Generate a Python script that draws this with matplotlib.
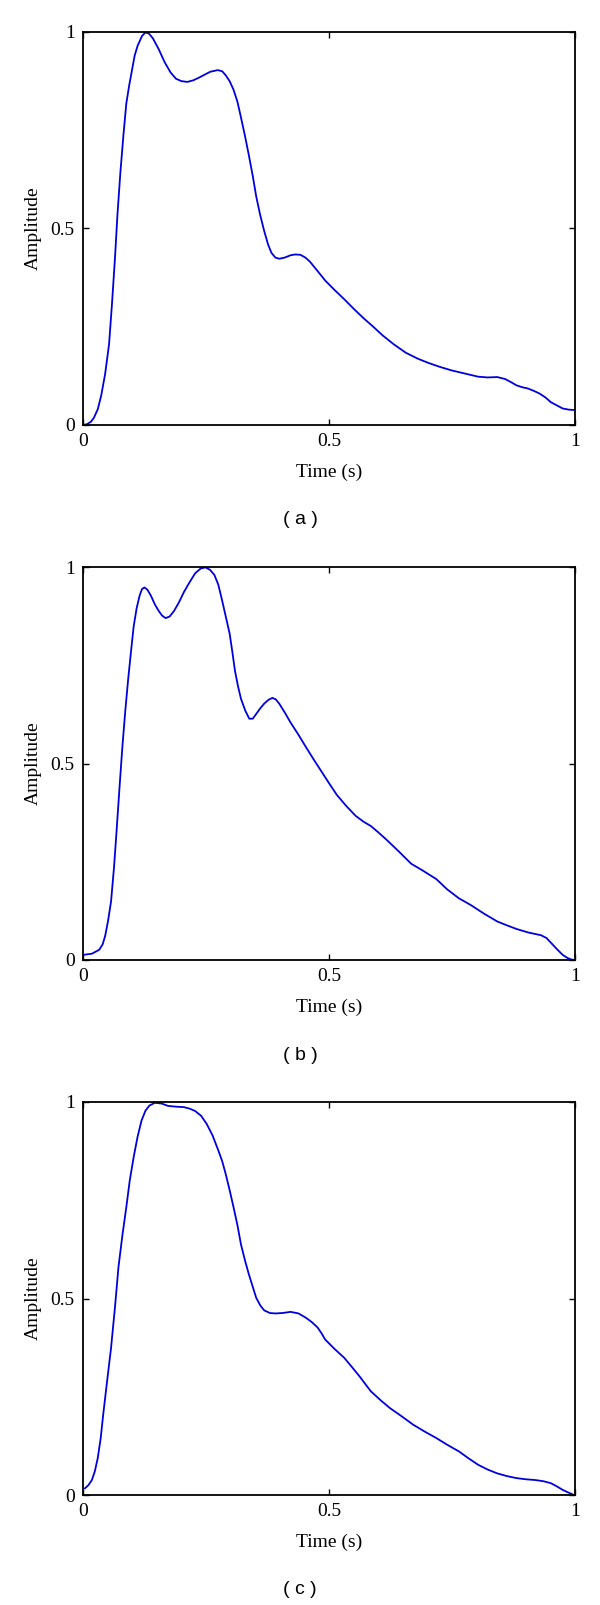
import matplotlib
matplotlib.use("Agg")
import matplotlib.pyplot as plt

# values, time in s, amplitude normalised
t_a = [0.0, 0.008, 0.016, 0.022, 0.03, 0.037, 0.045, 0.053, 0.059, 0.065, 0.07, 0.076,
       0.082, 0.088, 0.094, 0.1, 0.105, 0.111, 0.12, 0.127,
       0.134, 0.142, 0.154, 0.166, 0.178, 0.189, 0.2, 0.212, 0.224, 0.236, 0.248, 0.259,
       0.274, 0.283, 0.29, 0.298, 0.306, 0.314, 0.321, 0.329, 0.337, 0.345, 0.352, 0.36,
       0.368, 0.376, 0.383, 0.391, 0.399, 0.41, 0.422, 0.432, 0.442, 0.452, 0.461, 0.476,
       0.492, 0.511, 0.531, 0.55, 0.57, 0.59, 0.609, 0.632, 0.656, 0.68, 0.702, 0.725,
       0.749, 0.776, 0.803, 0.822, 0.842, 0.858, 0.87, 0.881, 0.893, 0.904, 0.916, 0.928,
       0.94, 0.951, 0.963, 0.975, 0.988, 1.0]
amp_a = [0.0, 0.002, 0.008, 0.018, 0.04, 0.075, 0.13, 0.206, 0.31, 0.425, 0.535, 0.643,
         0.735, 0.818, 0.865, 0.906, 0.94, 0.965, 0.99, 0.999,
         0.996, 0.984, 0.956, 0.923, 0.897, 0.881, 0.875, 0.873, 0.877, 0.884, 0.892, 0.899,
         0.903, 0.9, 0.89, 0.875, 0.853, 0.822, 0.783, 0.737, 0.687, 0.634, 0.582, 0.535,
         0.495, 0.46, 0.438, 0.426, 0.423, 0.426, 0.432, 0.434, 0.433, 0.426, 0.416, 0.393,
         0.368, 0.344, 0.32, 0.296, 0.272, 0.25, 0.228, 0.205, 0.184, 0.169, 0.158, 0.148,
         0.139, 0.131, 0.123, 0.121, 0.122, 0.117, 0.109, 0.101, 0.096, 0.093, 0.087, 0.08,
         0.07, 0.058, 0.05, 0.042, 0.039, 0.038]

t_b = [0.0, 0.018, 0.033, 0.04, 0.045, 0.051, 0.057, 0.063, 0.068, 0.074, 0.08, 0.086,
       0.092, 0.098, 0.103, 0.109, 0.115, 0.12, 0.125, 0.131, 0.138, 0.146, 0.154, 0.161,
       0.168, 0.176, 0.185, 0.195, 0.205, 0.217, 0.228, 0.239, 0.249, 0.258, 0.267, 0.275,
       0.282, 0.29, 0.298, 0.304, 0.309, 0.315, 0.321, 0.33, 0.338, 0.345, 0.352, 0.36,
       0.368, 0.377, 0.385, 0.392, 0.399, 0.41, 0.422, 0.438, 0.453, 0.468, 0.484, 0.5,
       0.516, 0.535, 0.554, 0.57, 0.585, 0.6, 0.617, 0.642, 0.667, 0.69, 0.718, 0.74,
       0.764, 0.788, 0.815, 0.842, 0.862, 0.881, 0.905, 0.931, 0.942, 0.951, 0.963, 0.975,
       0.985, 0.993, 1.0]
amp_b = [0.013, 0.016, 0.026, 0.04, 0.061, 0.1, 0.149, 0.235, 0.324, 0.435, 0.542, 0.635,
         0.717, 0.79, 0.849, 0.895, 0.927, 0.944, 0.948, 0.942, 0.927, 0.905, 0.888, 0.876,
         0.87, 0.874, 0.888, 0.91, 0.936, 0.962, 0.984, 0.996, 0.999, 0.993, 0.98, 0.955,
         0.919, 0.875, 0.831, 0.78, 0.735, 0.697, 0.665, 0.634, 0.614, 0.614, 0.626, 0.64,
         0.652, 0.662, 0.667, 0.663, 0.652, 0.63, 0.604, 0.573, 0.542, 0.512, 0.481, 0.45,
         0.42, 0.392, 0.367, 0.352, 0.341, 0.325, 0.306, 0.276, 0.245, 0.228, 0.206, 0.18,
         0.157, 0.14, 0.118, 0.098, 0.088, 0.079, 0.07, 0.063, 0.056, 0.044, 0.028, 0.013,
         0.005, 0.001, 0.0]

t_c = [0.004, 0.011, 0.018, 0.024, 0.03, 0.036, 0.041, 0.049, 0.057, 0.065, 0.072, 0.08,
       0.088, 0.095, 0.103, 0.111, 0.119, 0.127, 0.135, 0.146, 0.16, 0.173, 0.19, 0.205,
       0.217, 0.228, 0.24, 0.251, 0.263, 0.275, 0.283, 0.29, 0.298, 0.306, 0.314, 0.321,
       0.329, 0.337, 0.345, 0.352, 0.36, 0.368, 0.38, 0.391, 0.405, 0.422, 0.438, 0.453,
       0.465, 0.477, 0.485, 0.492, 0.511, 0.531, 0.547, 0.562, 0.574, 0.585, 0.605, 0.624,
       0.648, 0.671, 0.695, 0.718, 0.74, 0.764, 0.784, 0.803, 0.822, 0.842, 0.862, 0.881,
       0.9, 0.92, 0.936, 0.951, 0.963, 0.975, 0.987, 0.998]
amp_c = [0.017, 0.025, 0.038, 0.06, 0.094, 0.145, 0.204, 0.29, 0.374, 0.478, 0.579, 0.66,
         0.732, 0.8, 0.86, 0.912, 0.953, 0.978, 0.991, 0.998, 0.996, 0.99, 0.988, 0.987,
         0.983, 0.977, 0.965, 0.945, 0.916, 0.877, 0.849, 0.817, 0.776, 0.732, 0.686, 0.638,
         0.598, 0.562, 0.53, 0.502, 0.483, 0.47, 0.463, 0.462, 0.463, 0.466, 0.462, 0.451,
         0.44, 0.426, 0.411, 0.396, 0.372, 0.349, 0.325, 0.302, 0.282, 0.264, 0.241, 0.221,
         0.2, 0.179, 0.161, 0.145, 0.128, 0.111, 0.093, 0.077, 0.065, 0.055, 0.048, 0.043,
         0.04, 0.038, 0.035, 0.03, 0.022, 0.013, 0.006, 0.0]

panels = [(t_a, amp_a, "( a )"), (t_b, amp_b, "( b )"), (t_c, amp_c, "( c )")]
# axes bottom in pixels from the top
ax_bottoms = [425, 960, 1495]
ax_h = 393

W, H = 600, 1605
fig = plt.figure(figsize=(W / 100, H / 100), dpi=100)

for (t, amp, cap), yb in zip(panels, ax_bottoms):
    ax = fig.add_axes([83 / W, 1 - yb / H, (575 - 83) / W, ax_h / H])
    ax.plot(t, amp, color="#0000dd", lw=1.3)
    ax.set_xlim(0, 1)
    ax.set_ylim(0, 1)
    ax.set_xticks([0, 0.5, 1])
    ax.set_yticks([0, 0.5, 1])
    ax.set_xticklabels(["0", "0.5", "1"])
    ax.set_yticklabels(["0", "0.5", "1"])
    ax.tick_params(direction="in", top=True, right=True, length=4, width=1,
                   labelsize=14, pad=6)
    for lab in ax.get_xticklabels() + ax.get_yticklabels():
        lab.set_family("Liberation Serif")
    for s in ax.spines.values():
        s.set_linewidth(1.3)
    ax.set_xlabel("Time (s)", family="Liberation Serif", fontsize=14)
    ax.set_ylabel("Amplitude", family="Liberation Serif", fontsize=14)
    ax.xaxis.set_label_coords(0.5, -0.098)
    ax.yaxis.set_label_coords(-0.084, 0.5)
    fig.text(0.5, 1 - (yb + 95) / H, cap, ha="center", va="center",
             family="Liberation Sans", fontsize=14)

fig.savefig("out.png", dpi=100)
plt.close(fig)
